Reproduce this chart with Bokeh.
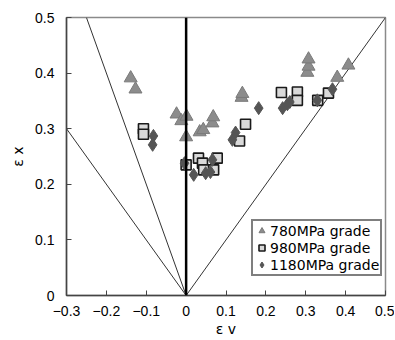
from bokeh.plotting import figure
from bokeh.models import FixedTicker, CustomJSTickFormatter, Span, Legend, LegendItem
from bokeh.embed import file_html
from bokeh.resources import INLINE

# ---- data ----
tri_x = [-0.139, -0.127, -0.024, -0.012, 0.001, 0.000, 0.034, 0.043, 0.066, 0.068, 0.139, 0.141, 0.304, 0.307, 0.307, 0.379, 0.407]
tri_y = [0.391, 0.371, 0.326, 0.314, 0.322, 0.285, 0.294, 0.298, 0.310, 0.321, 0.356, 0.363, 0.401, 0.412, 0.425, 0.392, 0.414]

sq_x = [-0.107, -0.107, 0.000, 0.031, 0.041, 0.044, 0.069, 0.078, 0.134, 0.149, 0.239, 0.279, 0.279, 0.330, 0.357]
sq_y = [0.300, 0.290, 0.235, 0.247, 0.238, 0.226, 0.226, 0.247, 0.278, 0.308, 0.365, 0.366, 0.351, 0.351, 0.364]

dia_x = [-0.082, -0.084, -0.004, 0.019, 0.049, 0.061, 0.066, 0.116, 0.124, 0.182, 0.242, 0.254, 0.260, 0.329, 0.367]
dia_y = [0.287, 0.271, 0.238, 0.217, 0.220, 0.222, 0.244, 0.280, 0.293, 0.337, 0.337, 0.344, 0.348, 0.351, 0.371]

series_labels = ["780MPa grade", "980MPa grade", "1180MPa grade"]
guide_slopes = [-2.0, -1.0, 1.0]   # eps_x = slope * eps_v
x_ticks = [-0.3, -0.2, -0.1, 0, 0.1, 0.2, 0.3, 0.4, 0.5]
y_ticks = [0, 0.1, 0.2, 0.3, 0.4, 0.5]
x_lim = (-0.3, 0.5)
y_lim = (0.0, 0.5)

p = figure(width=394, height=339, x_range=x_lim, y_range=y_lim,
           output_backend="svg", toolbar_location=None,
           min_border_left=66, min_border_right=9, min_border_top=17, min_border_bottom=43)
p.xgrid.visible = False
p.ygrid.visible = False
p.outline_line_color = "#8a8a8a"
p.outline_line_width = 1.5
p.background_fill_color = "white"

# guide lines from origin
top = y_lim[1]
for s in guide_slopes:
    p.line([0, top / s], [0, top], line_color="#333333", line_width=1)

p.add_layout(Span(location=0, dimension="height", line_color="black", line_width=2.5))

r_tri = p.scatter(tri_x, tri_y, marker="triangle", size=13, fill_color="#8c8c8c",
                  line_color="#7a7a7a", line_width=1)
r_sq = p.scatter(sq_x, sq_y, marker="square", size=10, fill_color="#d9d9d9",
                 line_color="#1a1a1a", line_width=1.6)
r_dia = p.scatter(dia_x, dia_y, marker="diamond", size=13, fill_color="#555555",
                  line_color="#555555", line_width=1)

fmt = CustomJSTickFormatter(code="""
if (Math.abs(tick) < 1e-9) return '0';
return tick.toFixed(1).replace('-', '\u2212');
""")

for ax, ticks in ((p.xaxis[0], x_ticks), (p.yaxis[0], y_ticks)):
    ax.ticker = FixedTicker(ticks=ticks)
    ax.formatter = fmt
    ax.minor_tick_line_color = None
    ax.major_tick_in = 5
    ax.major_tick_out = 0
    ax.axis_line_color = "#444444"
    ax.axis_line_width = 1.5
    ax.major_tick_line_color = "#444444"
    ax.major_label_text_font = "Liberation Sans"
    ax.major_label_text_font_size = "14px"
    ax.major_label_text_color = "black"
    ax.axis_label_text_font = "DejaVu Sans"
    ax.axis_label_text_font_size = "14px"
    ax.axis_label_text_font_style = "normal"
    ax.axis_label_text_color = "black"

p.xaxis.axis_label = "ε v"
p.yaxis.axis_label = "ε x"
p.xaxis.major_label_standoff = 10
p.yaxis.major_label_standoff = 12
p.xaxis.axis_label_standoff = 2
p.yaxis.axis_label_standoff = 6

legend = Legend(items=[LegendItem(label=series_labels[0], renderers=[r_tri]),
                       LegendItem(label=series_labels[1], renderers=[r_sq]),
                       LegendItem(label=series_labels[2], renderers=[r_dia])],
                location=(185, 19))
legend.border_line_color = "black"
legend.border_line_width = 2
legend.background_fill_alpha = 1
legend.padding = 1
legend.spacing = 0
legend.margin = 0
legend.glyph_width = 15
legend.glyph_height = 17
legend.label_height = 17
legend.label_standoff = 1
legend.label_text_font = "DejaVu Sans"
legend.label_text_font_size = "14px"
legend.label_text_color = "black"
p.add_layout(legend)

open("out.html", "w").write(file_html(p, INLINE))
